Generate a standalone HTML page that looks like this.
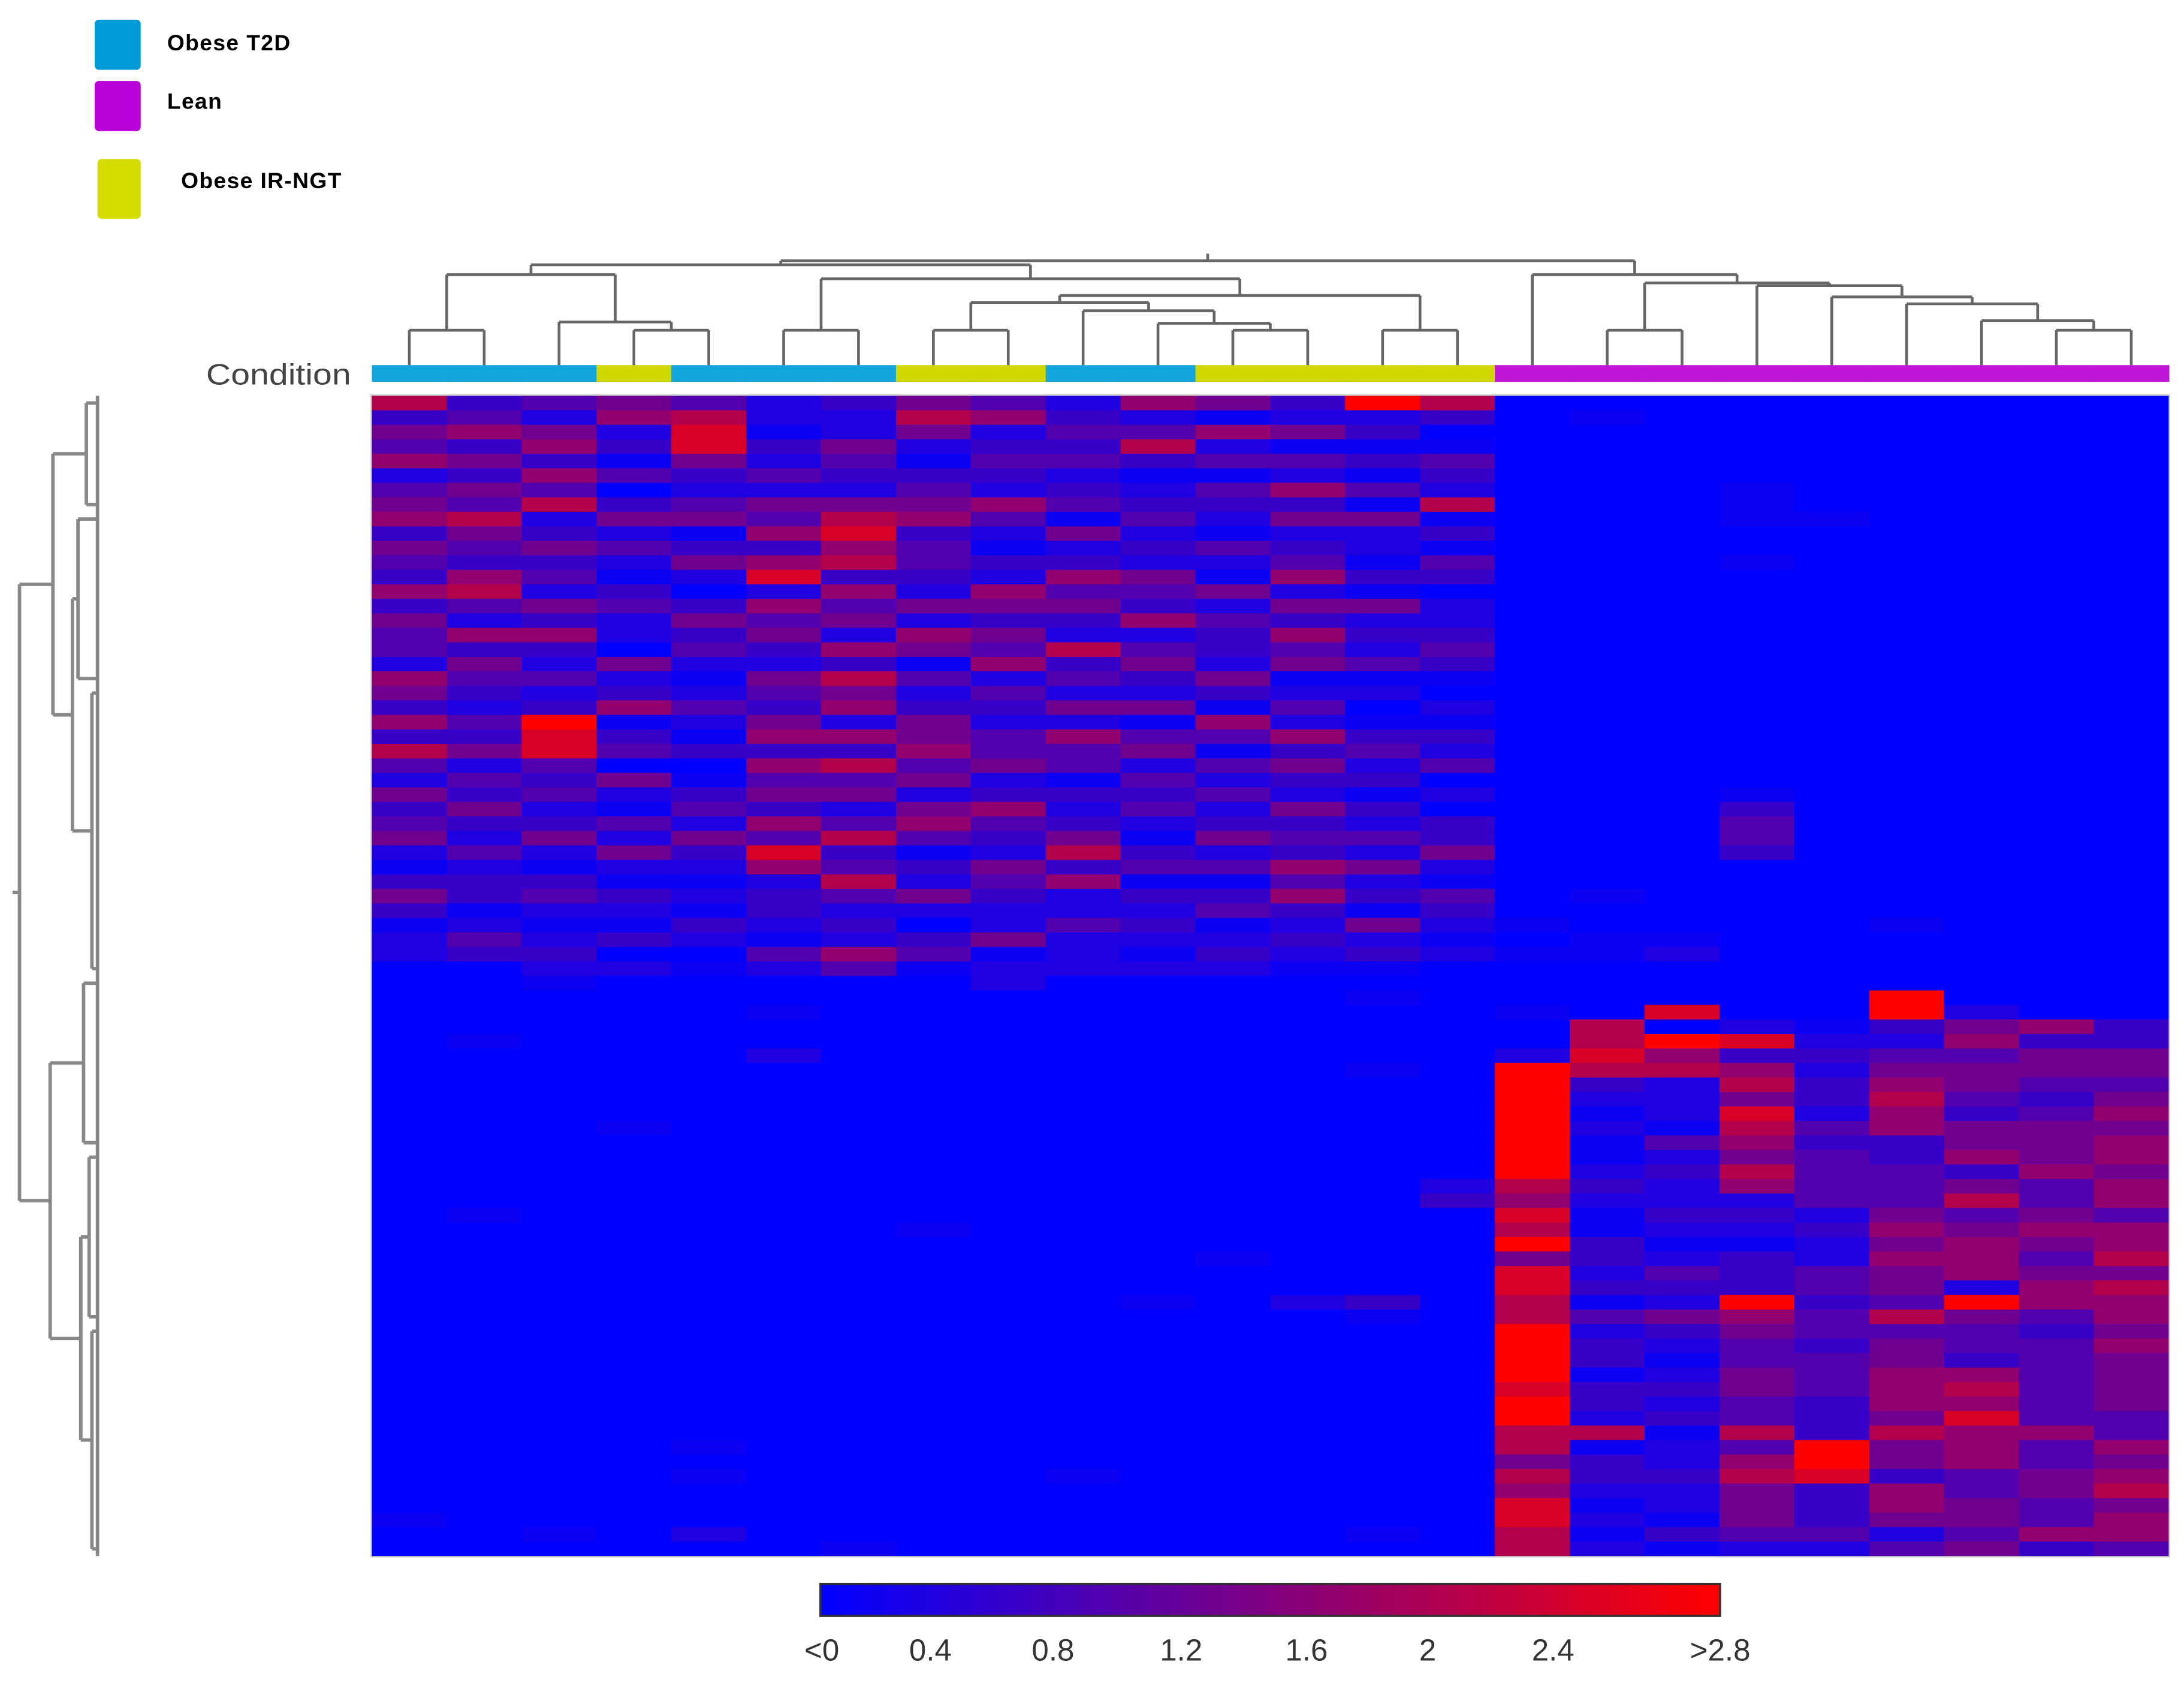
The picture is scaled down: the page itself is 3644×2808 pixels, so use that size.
<!DOCTYPE html>
<html><head><meta charset="utf-8">
<style>
html,body{margin:0;padding:0;background:#fff;}
svg{display:block;}
text{font-family:"Liberation Sans",sans-serif;}
</style></head>
<body>
<svg id="chart" xmlns="http://www.w3.org/2000/svg" width="3644" height="2808" viewBox="0 0 1568 1208">
  <rect x="0" y="0" width="1568" height="1208" fill="#ffffff"/>
  <g>
    <rect x="68" y="14" width="33" height="36" rx="3" fill="#009ad8"/>
    <text x="120" y="36" font-size="16" font-weight="bold" fill="#000" letter-spacing="0.6">Obese T2D</text>
    <rect x="68" y="58" width="33" height="36" rx="3" fill="#b800d8"/>
    <text x="120" y="78" font-size="16" font-weight="bold" fill="#000" letter-spacing="0.6">Lean</text>
    <rect x="70" y="114" width="31" height="43" rx="3" fill="#d4dc00"/>
    <text x="130" y="135" font-size="16" font-weight="bold" fill="#000" letter-spacing="0.6">Obese IR-NGT</text>
  </g>
  <text x="252" y="276" font-size="21" fill="#444" text-anchor="end" textLength="104" lengthAdjust="spacingAndGlyphs">Condition</text>
  <g id="coldendro" stroke="#666" stroke-width="2" fill="none"></g>
  <g id="rowdendro" stroke="#888" stroke-width="2.5" fill="none"></g>
  <g id="condbar"></g>
  <g id="heat"></g>
  <rect x="266.5" y="283.5" width="1291" height="834" fill="none" stroke="#ccc" stroke-width="1"/>
  <defs>
    <linearGradient id="cbg" x1="0" x2="1" y1="0" y2="0">
      <stop offset="0" stop-color="#0000ff"/>
      <stop offset="0.5" stop-color="#800080"/>
      <stop offset="1" stop-color="#ff0000"/>
    </linearGradient>
  </defs>
  <rect x="589" y="1137" width="646" height="23" fill="url(#cbg)" stroke="#333" stroke-width="1.5"/>
  <g id="cbticks" font-size="22" fill="#333" text-anchor="middle"></g>
</svg>
<script>
// ---- data ----
const groups = ["T2D","T2D","T2D","NGT","T2D","T2D","T2D","NGT","NGT","T2D","T2D","NGT","NGT","NGT","NGT","Lean","Lean","Lean","Lean","Lean","Lean","Lean","Lean","Lean"];
// level 0..9 per row, one string per column (top 40 rows + bottom 40 rows)
const colValues = [
 "7354624563 5436354426 5363742534 5213531220 0000000000 0000000000 0000000000 0000000100",
 "3463535475 4367426354 3243524353 2423312430 0000100000 0000001000 0000000000 0000000000",
 "4256364723 5342536324 2398843423 5213421232 1000000000 0000000000 0000000000 0000000010",
 "5623140352 4213422052 3613405214 2521321302 0000000000 1000000000 0000000000 0000000000",
 "4788532451 3520353421 2421301342 5321213201 0000000000 0000000000 0000000000 0010100020",
 "2213242546 3682645325 4356364536 4862332142 0010020000 0000000000 0000000000 0000000000",
 "3225432578 6736452637 5626374524 7347423264 0000000000 0000000000 0000000000 0000000001",
 "5752134563 4432526514 2355645256 4132520341 0000000000 0000000100 0000000000 0000000000",
 "4623432642 1326535462 4324452364 3254322512 2000000000 0000000000 0000000000 0000000000",
 "2343423415 2364532734 2526441323 5736224222 0000000000 0000000000 0000000000 0000100000",
 "6247312342 3254362453 2514524342 1341323212 0000000000 0000000000 0010000000 0000000000",
 "5162414321 4215243325 3164142423 5241341232 0000000000 0000000001 0000000000 0000000000",
 "3251426352 3462536451 2426353253 4364632321 0000000000 0000000000 0020000000 0000000000",
 "9231314152 2131523241 2013423132 4252315231 0100001000 0000000000 0031000000 0000000010",
 "7301432713 1430223431 0213240203 3521432120 0000000000 0000230000 0000000000 0000000000",
 "0000000000 0000000000 0000000000 0000001010 0010029999 9999768795 8877999989 9775768877",
 "0100000000 0000000000 0000000000 0000100110 0007787321 2112321133 2314233133 2713321212",
 "0000000000 0000000000 0000000000 0000000120 0080967222 1423223212 4325321232 3122322131",
 "0000001110 0100000000 0000000134 4300000000 0002836758 7657623213 3396544554 4746755542",
 "0000000010 0000000000 0000000000 0000000000 0001232332 4344442322 4434434443 3399833342",
 "0000000000 0000000000 0000000000 0000001000 0993245676 6334445656 5547455666 5755366524",
 "0000000000 0000000000 0000000000 0000000000 0025645543 5563574566 6295443676 8666445545",
 "0000000000 0000000000 0000000000 0000000000 0006355434 5556445654 5664344444 4644554463",
 "0000000000 0000000000 0000000000 0000000000 0003355456 5665664667 5766565555 4465675664"
];
const tickLabels = ["<0","0.4","0.8","1.2","1.6","2","2.4",">2.8"];
const tickPos = [590,668,756,848,938,1025,1115,1235];
// ---- layout ----
const NS="http://www.w3.org/2000/svg";
const HX0=267, HX1=1557, HY0=284, HY1=1117;
const nCols=colValues.length;
const cw=(HX1-HX0)/nCols;
const xCol=i=>HX0+i*cw;
const groupColor={T2D:"#12a6dc",NGT:"#d0d800",Lean:"#c016d8"};
function lvlColor(v){const t=Math.pow(v/9,1.4);const r=Math.round(255*t),b=Math.round(255*(1-t));return `rgb(${r},0,${b})`;}
const heat=document.getElementById('heat');
colValues.forEach((s,ci)=>{
  const vals=s.replace(/\s/g,'').split('').map(Number);
  const rh=(HY1-HY0)/vals.length;
  vals.forEach((v,ri)=>{
    const r=document.createElementNS(NS,'rect');
    
    
    r.setAttribute('x',xCol(ci));r.setAttribute('y',HY0+ri*rh);
    r.setAttribute('width',cw+0.6);r.setAttribute('height',rh+0.6);
    r.setAttribute('fill',lvlColor(v));
    heat.appendChild(r);
  });
});
const cb=document.getElementById('condbar');
groups.forEach((g,i)=>{
  const r=document.createElementNS(NS,'rect');
  
  
  r.setAttribute('x',xCol(i));r.setAttribute('y',262);r.setAttribute('width',cw+0.5);r.setAttribute('height',12);
  r.setAttribute('fill',groupColor[g]);
  cb.appendChild(r);
});
const tree=[
  [[[0,1,237],[2,[3,4,237],231],197],
   [[5,6,237],[[[7,8,237],[9,[10,[11,12,237],232],223],217],[13,14,237],212],200],190],
  [15,[[16,17,237],[18,[19,[20,[21,[22,23,237],230],218],213],205],203],197],187];
const cd=document.getElementById('coldendro');
function line(g,x1,y1,x2,y2,name){const l=document.createElementNS(NS,'path');
  
  
  l.setAttribute('d',`M${x1},${y1}L${x2},${y2}`);g.appendChild(l);}
function draw(n){
  if(typeof n==='number') return {x:xCol(n)+cw/2,y:262};
  const a=draw(n[0]),b=draw(n[1]),h=n[2];
  line(cd,a.x,a.y,a.x,h,'dendrogram-branch');line(cd,b.x,b.y,b.x,h,'dendrogram-branch');line(cd,a.x,h,b.x,h,'dendrogram-branch');
  return {x:(a.x+b.x)/2,y:h};
}
const root=draw(tree);
line(cd,root.x,root.y,root.x,root.y-5,'dendrogram-root');
// row dendrogram (coarse)
const rd=document.getElementById('rowdendro');
const rTree={k:[{k:[{leaf:[0,8,62]},{k:[{leaf:[8,20,56]},{leaf:[20,40,66]}],x:52}],x:38},{k:[{leaf:[40,52,60]},{k:[{leaf:[52,64,64]},{leaf:[64,80,66]}],x:58}],x:36}],x:14};
const rowH=(HY1-HY0)/80;
function drawR(n){
  if(n.leaf){
    const [a0,a1,xx]=n.leaf;
    const y0=HY0+a0*rowH,y1=HY0+a1*rowH;
    line(rd,xx,y0+rowH/2,xx,y1-rowH/2,'row-dendrogram-branch');
    line(rd,xx,y0+rowH/2,70,y0+rowH/2,'row-dendrogram-branch');
    line(rd,xx,y1-rowH/2,70,y1-rowH/2,'row-dendrogram-branch');
    return {y:(y0+y1)/2,x:xx};
  }
  const a=drawR(n.k[0]),b=drawR(n.k[1]),x=n.x;
  line(rd,a.x,a.y,x,a.y,'row-dendrogram-branch');line(rd,b.x,b.y,x,b.y,'row-dendrogram-branch');line(rd,x,a.y,x,b.y,'row-dendrogram-branch');
  return {y:(a.y+b.y)/2,x:x};
}
const rr=drawR(rTree);
line(rd,rr.x,rr.y,rr.x-5,rr.y,'row-dendrogram-root');
line(rd,70,HY0,70,HY1,'row-dendrogram-leaves');
const cbt=document.getElementById('cbticks');
tickLabels.forEach((t,i)=>{
  const tx=document.createElementNS(NS,'text');
  
  
  tx.setAttribute('x',tickPos[i]);tx.setAttribute('y',1192);tx.textContent=t;cbt.appendChild(tx);
});
</script>
</body></html>
